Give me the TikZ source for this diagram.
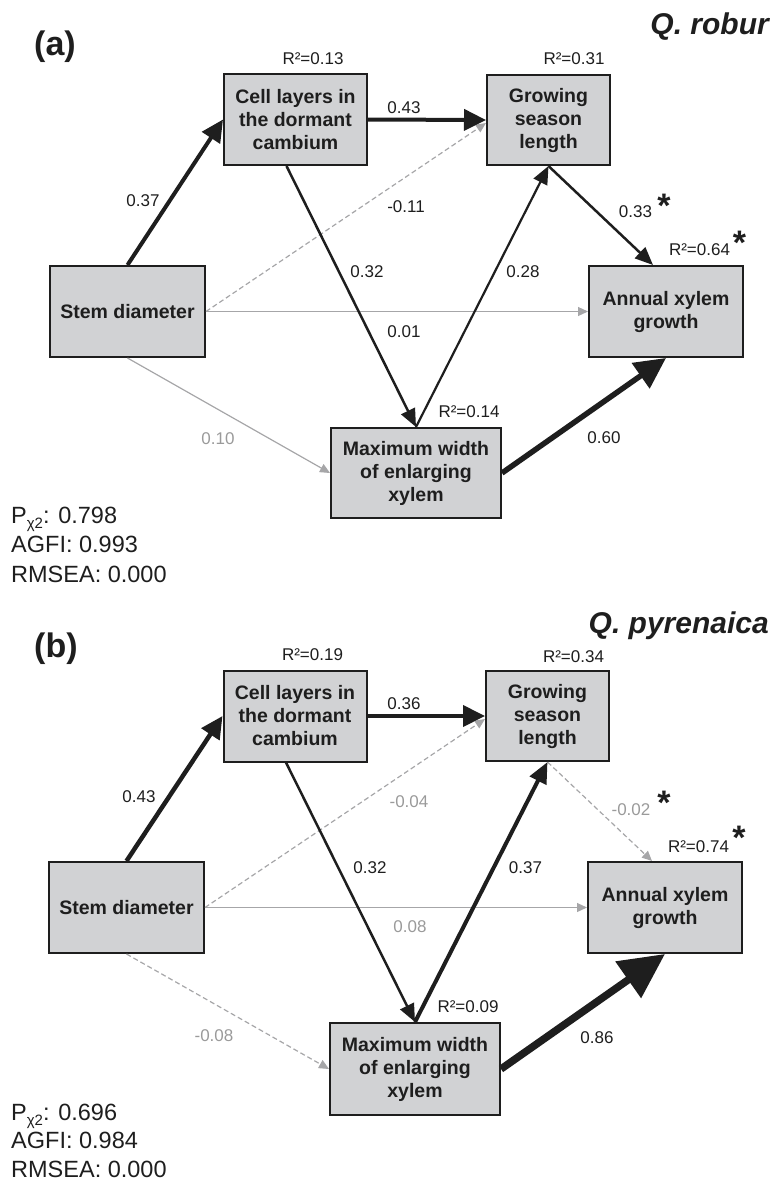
\documentclass[tikz,border=0pt]{standalone}
\usepackage{fontspec}
\setmainfont{Liberation Sans}
\usetikzlibrary{arrows.meta,calc}
\definecolor{boxfill}{HTML}{D1D2D4}
\definecolor{ink}{HTML}{1E1E1E}
\definecolor{lgray}{HTML}{A6A6A8}
\definecolor{tgray}{HTML}{9A9A9A}
\begin{document}
\begin{tikzpicture}[x=1pt,y=-1pt,
 box/.style={draw=ink, line width=2pt, fill=boxfill, inner sep=0pt, align=center,
   font=\fontsize{19.5}{23}\selectfont\bfseries, text=ink},
 lbl/.style={font=\fontsize{17}{17}\selectfont, text=ink, inner sep=0pt, anchor=base},
 glbl/.style={lbl, text=tgray},
 thickarr/.style={draw=ink, line width=4pt, -{Triangle[length=22pt,width=21pt]}},
 medarr/.style={draw=ink, line width=2.5pt, -{Triangle[length=18pt,width=15pt]}},
 grayarr/.style={draw=lgray, line width=1.2pt, -{Triangle[length=10pt,width=9pt]}},
 graydash/.style={grayarr, dash pattern=on 5pt off 3pt},
 bigarr/.style={draw=ink, line width=5.5pt, -{Triangle[length=31pt,width=30pt]}},
 hugearr/.style={draw=ink, line width=7.5pt, -{Triangle[length=45pt,width=43pt]}},
 star/.style={font=\fontsize{34}{34}\selectfont\bfseries, text=ink, inner sep=0pt, anchor=base},
 stat/.style={font=\fontsize{23.5}{23.5}\selectfont, text=ink, inner sep=0pt, anchor=base west},
 panel/.style={font=\fontsize{34}{34}\selectfont\bfseries, text=ink, inner sep=0pt, anchor=base west},
 species/.style={font=\fontsize{30}{30}\selectfont\bfseries\itshape, text=ink, inner sep=0pt, anchor=base east},
]
\useasboundingbox (0,0) rectangle (773,1184);

% ---------------- panel (a) ----------------
\node[panel] (pa) at (34,55) {(a)};
\node[species] (sa) at (769,34) {Q. robur};

\node[box, minimum width=143pt, minimum height=91pt] (cellA) at (295.5,119.5) {Cell layers in\\the dormant\\cambium};
\node[box, minimum width=123pt, minimum height=90pt] (growA) at (548.5,120) {Growing\\season\\length};
\node[box, minimum width=155pt, minimum height=91pt] (stemA) at (127.5,311.5) {Stem diameter};
\node[box, minimum width=154pt, minimum height=91pt] (annA) at (666,311.5) {Annual xylem\\growth};
\node[box, minimum width=170pt, minimum height=90pt] (maxA) at (416,473) {Maximum width\\of enlarging\\xylem};

\draw[graydash] (stemA.east) -- ([yshift=-3pt]growA.west);
\draw[grayarr] (stemA.east) -- (annA.west);
\draw[grayarr] (stemA.south) -- (maxA.west);
\draw[thickarr] (stemA.north) -- (cellA.west);
\draw[thickarr] (cellA.east) -- (growA.west);
\draw[medarr] ([xshift=-9pt]cellA.south) -- (maxA.north);
\draw[medarr, line width=2.2pt] (maxA.north) -- (growA.south);
\draw[medarr] (growA.south) -- ([xshift=-13pt]annA.north);
\draw[bigarr] (maxA.east) -- (annA.south);

\node[lbl] (r1a) at (313,64) {R²=0.13};
\node[lbl] (r2a) at (574,64) {R²=0.31};
\node[lbl] (r3a) at (699.5,255) {R²=0.64};
\node[lbl] (r4a) at (469,417) {R²=0.14};
\node[lbl] (e1a) at (143,206) {0.37};
\node[lbl] (e2a) at (404,113) {0.43};
\node[lbl] (e3a) at (406,212) {-0.11};
\node[lbl] (e4a) at (367,277) {0.32};
\node[lbl] (e5a) at (523,277) {0.28};
\node[lbl] (e6a) at (635.5,217) {0.33};
\node[lbl] (e7a) at (404,337) {0.01};
\node[glbl] (e8a) at (218,444) {0.10};
\node[lbl] (e9a) at (604,443) {0.60};
\node[star] (s1a) at (664,217) {*};
\node[star] (s2a) at (739.5,254) {*};

\node[stat] (p1a) at (11,523) {P\raisebox{-5pt}{\fontsize{15}{15}\selectfont χ2}: 0.798};
\node[stat] (p2a) at (11,552) {AGFI: 0.993};
\node[stat] (p3a) at (11,582) {RMSEA: 0.000};

% ---------------- panel (b) ----------------
\node[panel] (pb) at (34,657) {(b)};
\node[species] (sb) at (769,633) {Q. pyrenaica};

\node[box, minimum width=143pt, minimum height=91pt] (cellB) at (295,716) {Cell layers in\\the dormant\\cambium};
\node[box, minimum width=123pt, minimum height=90pt] (growB) at (547.5,716) {Growing\\season\\length};
\node[box, minimum width=155pt, minimum height=91pt] (stemB) at (126.5,907.5) {Stem diameter};
\node[box, minimum width=154pt, minimum height=91pt] (annB) at (665,907.5) {Annual xylem\\growth};
\node[box, minimum width=170pt, minimum height=92pt] (maxB) at (415,1069) {Maximum width\\of enlarging\\xylem};

\draw[graydash] (stemB.east) -- ([yshift=-3pt]growB.west);
\draw[grayarr] (stemB.east) -- (annB.west);
\draw[graydash] (stemB.south) -- (maxB.west);
\draw[graydash] (growB.south) -- ([xshift=-13pt]annB.north);
\draw[thickarr, line width=4.5pt] (stemB.north) -- (cellB.west);
\draw[thickarr] (cellB.east) -- (growB.west);
\draw[medarr] ([xshift=-9pt]cellB.south) -- (maxB.north);
\draw[thickarr, -{Triangle[length=21pt,width=18pt]}] (maxB.north) -- (growB.south);
\draw[hugearr] (maxB.east) -- (annB.south);

\node[lbl] (r1b) at (312.5,660) {R²=0.19};
\node[lbl] (r2b) at (573.5,662) {R²=0.34};
\node[lbl] (r3b) at (698.5,852) {R²=0.74};
\node[lbl] (r4b) at (468,1012) {R²=0.09};
\node[lbl] (e1b) at (139,802) {0.43};
\node[lbl] (e2b) at (404,709) {0.36};
\node[glbl] (e3b) at (409,807) {-0.04};
\node[lbl] (e4b) at (370,873) {0.32};
\node[lbl] (e5b) at (525.5,873) {0.37};
\node[glbl] (e6b) at (631,815) {-0.02};
\node[glbl] (e7b) at (410,932) {0.08};
\node[glbl] (e8b) at (214,1041) {-0.08};
\node[lbl] (e9b) at (597,1043) {0.86};
\node[star] (s1b) at (664,814) {*};
\node[star] (s2b) at (739,849) {*};

\node[stat] (p1b) at (11,1120) {P\raisebox{-5pt}{\fontsize{15}{15}\selectfont χ2}: 0.696};
\node[stat] (p2b) at (11,1148) {AGFI: 0.984};
\node[stat] (p3b) at (11,1177) {RMSEA: 0.000};
\end{tikzpicture}
\end{document}
